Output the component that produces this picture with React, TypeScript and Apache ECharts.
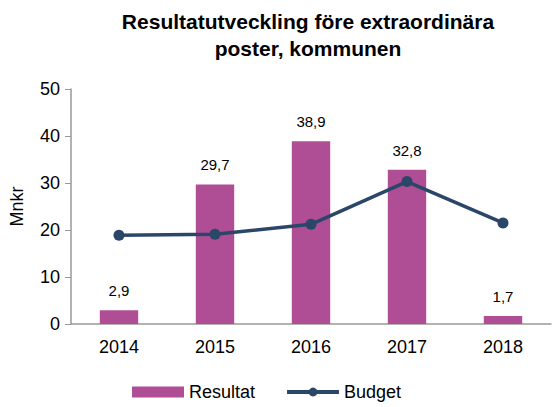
import React, { useEffect, useRef } from "react";
import * as echarts from "echarts";

const categories = ["2014", "2015", "2016", "2017", "2018"];
const resultat = [2.9, 29.7, 38.9, 32.8, 1.7];
const budget = [18.9, 19.1, 21.2, 30.3, 21.5];
const yTicks = { min: 0, max: 50, interval: 10 };

export default function App() {
  const ref = useRef<HTMLDivElement>(null);
  useEffect(() => {
    if (!ref.current) return;
    const chart = echarts.init(ref.current, null, { renderer: "svg" });
    const font = "Liberation Sans, Arial, sans-serif";
    chart.setOption({
      animation: false,
      textStyle: { fontFamily: font },
      title: {
        text: "Resultatutveckling före extraordinära\nposter, kommunen",
        left: 303,
        textAlign: "center",
        top: 3,
        textStyle: { fontSize: 21, fontWeight: "bold", color: "#000", lineHeight: 27, fontFamily: font },
      },
      grid: { left: 71, right: 2, top: 89, bottom: 83, containLabel: false },
      legend: {
        bottom: 1,
        left: 127,
        itemGap: 30,
        itemWidth: 52,
        itemHeight: 11,
        textStyle: { fontSize: 18, color: "#000", fontFamily: font },
        data: [
          { name: "Resultat", icon: "rect" },
          { name: "Budget", lineStyle: { width: 4 } },
        ],
      },
      xAxis: {
        type: "category",
        data: categories,
        axisLine: { lineStyle: { color: "#999", width: 1.5 } },
        axisTick: { show: false },
        axisLabel: { fontSize: 18, color: "#000", margin: 14, fontFamily: font },
      },
      yAxis: {
        type: "value",
        min: yTicks.min,
        max: yTicks.max,
        interval: yTicks.interval,
        name: "Mnkr",
        nameLocation: "middle",
        nameGap: 45,
        nameRotate: 90,
        nameTextStyle: { fontSize: 18, color: "#000", fontFamily: font },
        axisLine: { show: true, lineStyle: { color: "#999", width: 1.5 } },
        axisTick: { show: true, length: 6, lineStyle: { color: "#999" } },
        splitLine: { show: false },
        axisLabel: { fontSize: 18, color: "#000", margin: 11, fontFamily: font },
      },
      series: [
        {
          name: "Resultat",
          type: "bar",
          data: resultat,
          barWidth: "40%",
          itemStyle: { color: "#B04E95" },
          label: {
            show: true,
            position: "top",
            distance: 12,
            fontSize: 15,
            color: "#000",
            fontFamily: font,
            formatter: (p: any) => String(p.value).replace(".", ","),
          },
        },
        {
          name: "Budget",
          type: "line",
          data: budget,
          symbol: "circle",
          symbolSize: 11,
          lineStyle: { color: "#2A4769", width: 3.5 },
          itemStyle: { color: "#2A4769" },
        },
      ],
    });
    return () => chart.dispose();
  }, []);
  return <div ref={ref} style={{ width: 553, height: 407, position: "absolute", left: 0, top: 0 }} />;
}
